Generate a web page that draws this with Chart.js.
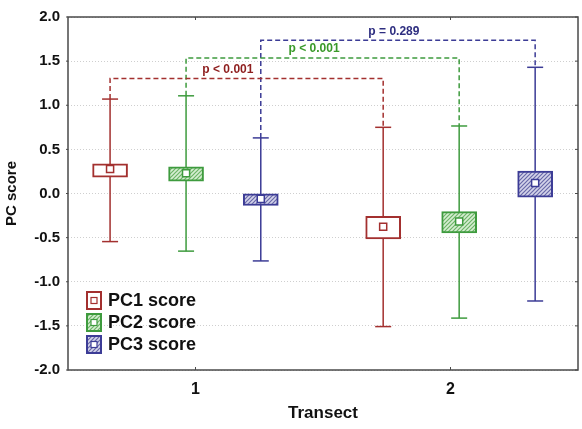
<!DOCTYPE html>
<html>
<head>
<meta charset="utf-8">
<script src="https://cdn.jsdelivr.net/npm/chart.js@4/dist/chart.umd.min.js"></script>
<style>
  body { margin: 0; background: #fff; }
  #wrap { width: 582px; height: 429px; }
</style>
</head>
<body>
<div id="wrap"><canvas id="boxChart"></canvas></div>
<script>
// data
var series = ['PC1 score', 'PC2 score', 'PC3 score'];
var transects = [1, 2];
var xPos = [[0.665, 1.736], [0.963, 2.034], [1.256, 2.332]];   // box centres on the transect axis
var boxLow  = [[0.185, -0.515], [0.140, -0.448], [-0.136, -0.043]];
var boxHigh = [[0.337, -0.258], [0.303, -0.206], [-0.005, 0.255]];
var centre  = [[0.277, -0.377], [0.229, -0.318], [-0.061, 0.118]];
var whiskLow  = [[-0.545, -1.508], [-0.653, -1.412], [-0.764, -1.218]];
var whiskHigh = [[1.070, 0.750], [1.107, 0.765], [0.630, 1.430]];
var bracketLevel = [1.304, 1.535, 1.736];
var pLabels = ['p < 0.001', 'p < 0.001', 'p = 0.289'];
var pLabelX = [1.127, 1.465, 1.778];
var yTicks = [-2, -1.5, -1, -0.5, 0, 0.5, 1, 1.5, 2];

var lineCol = ['#a3302f', '#3e9b3e', '#3c3c96'];
var textCol = ['#8e1e1e', '#3a9a2a', '#2e2e80'];
var FONT = "'Liberation Sans', Arial, sans-serif";

function hatch(bg, fg) {
    var c = document.createElement('canvas');
    c.width = 4; c.height = 4;
    var g = c.getContext('2d');
    g.fillStyle = bg; g.fillRect(0, 0, 4, 4);
    g.strokeStyle = fg; g.lineWidth = 1.2;
    g.beginPath();
    g.moveTo(-1, 5); g.lineTo(5, -1);
    g.moveTo(-1, 1); g.lineTo(1, -1);
    g.moveTo(3, 5); g.lineTo(5, 3);
    g.stroke();
    return g.createPattern(c, 'repeat');
}
var fills = ['#ffffff', hatch('#d6eed2', '#6cb466'), hatch('#d4d4ea', '#6868a8')];

var datasets = [];
series.forEach(function (name, s) {
    // centre markers (top-most)
    datasets.push({
        type: 'line', label: name, order: 0, showLine: false,
        data: transects.map(function (t, i) { return {x: xPos[s][i], y: centre[s][i]}; }),
        pointStyle: 'rect', pointRadius: 5, pointHoverRadius: 5,
        pointBackgroundColor: '#ffffff', pointBorderColor: lineCol[s], pointBorderWidth: 1.5
    });
    // boxes
    datasets.push({
        type: 'bar', label: name + ' box', order: 1, grouped: false,
        data: transects.map(function (t, i) { return {x: xPos[s][i], y: [boxLow[s][i], boxHigh[s][i]]}; }),
        backgroundColor: fills[s], borderColor: lineCol[s], borderWidth: 2,
        borderSkipped: false, barThickness: 35
    });
    // whiskers with caps
    datasets.push({
        type: 'line', label: name + ' range', order: 2,
        data: [
            {x: xPos[s][0], y: whiskLow[s][0]}, {x: xPos[s][0], y: whiskHigh[s][0]},
            {x: (xPos[s][0] + xPos[s][1]) / 2, y: null},
            {x: xPos[s][1], y: whiskLow[s][1]}, {x: xPos[s][1], y: whiskHigh[s][1]}
        ],
        borderColor: lineCol[s], borderWidth: 1.5,
        pointStyle: 'line', pointRadius: 8, pointHoverRadius: 8,
        pointBorderColor: lineCol[s], pointBorderWidth: 1.5
    });
    // significance bracket
    datasets.push({
        type: 'line', label: name + ' test', order: 3,
        data: [
            {x: xPos[s][0], y: whiskHigh[s][0]}, {x: xPos[s][0], y: bracketLevel[s]},
            {x: xPos[s][1], y: bracketLevel[s]}, {x: xPos[s][1], y: whiskHigh[s][1]}
        ],
        borderColor: lineCol[s], borderWidth: 1.5, borderDash: [5, 3], pointRadius: 0
    });
});

var extras = {
    id: 'extras',
    afterDatasetsDraw: function (chart) {
        var ctx = chart.ctx, xs = chart.scales.x, ys = chart.scales.y, a = chart.chartArea;
        ctx.save();
        // p-value labels
        ctx.font = 'bold 12px ' + FONT;
        ctx.textAlign = 'center';
        ctx.textBaseline = 'bottom';
        pLabels.forEach(function (t, s) {
            ctx.fillStyle = textCol[s];
            ctx.fillText(t, xs.getPixelForValue(pLabelX[s]), ys.getPixelForValue(bracketLevel[s]) - 3);
        });
        // frame + small inward ticks
        ctx.strokeStyle = '#4a4a4a';
        ctx.lineWidth = 1.5;
        ctx.strokeRect(a.left, a.top, a.right - a.left, a.bottom - a.top);
        ctx.lineWidth = 1;
        ctx.beginPath();
        transects.forEach(function (t) {
            var px = xs.getPixelForValue(t);
            ctx.moveTo(px, a.top); ctx.lineTo(px, a.top + 3);
            ctx.moveTo(px, a.bottom); ctx.lineTo(px, a.bottom - 3);
        });
        yTicks.forEach(function (v) {
            var py = ys.getPixelForValue(v);
            ctx.moveTo(a.right, py); ctx.lineTo(a.right - 3, py);
            ctx.moveTo(a.left, py); ctx.lineTo(a.left - 2, py);
        });
        ctx.stroke();
        // legend
        var lx = a.left + 19, ly = a.bottom - 78;
        series.forEach(function (name, s) {
            var y = ly + s * 22;
            ctx.fillStyle = fills[s];
            ctx.fillRect(lx, y, 14, 17);
            ctx.strokeStyle = lineCol[s];
            ctx.lineWidth = 2;
            ctx.strokeRect(lx, y, 14, 17);
            ctx.fillStyle = '#fff';
            ctx.fillRect(lx + 4, y + 5.5, 6, 6);
            ctx.lineWidth = 1.2;
            ctx.strokeRect(lx + 4, y + 5.5, 6, 6);
            ctx.fillStyle = '#111';
            ctx.font = 'bold 18px ' + FONT;
            ctx.textAlign = 'left';
            ctx.textBaseline = 'middle';
            ctx.fillText(name, lx + 21, y + 9);
        });
        ctx.restore();
    }
};

new Chart(document.getElementById('boxChart'), {
    data: {datasets: datasets},
    options: {
        responsive: true,
        maintainAspectRatio: false,
        animation: false,
        layout: {autoPadding: false, padding: {top: 12, right: 4, bottom: 0, left: 0}},
        plugins: {
            legend: {display: false},
            tooltip: {enabled: false}
        },
        scales: {
            x: {
                type: 'linear', min: 0.5, max: 2.5, offset: false,
                afterBuildTicks: function (scale) {
                    scale.ticks = transects.map(function (v) { return {value: v}; });
                },
                afterFit: function (scale) {
                    scale.height = 59;
                    scale.paddingLeft = 0;
                    scale.paddingRight = 0;
                },
                grid: {display: false, offset: false},
                border: {display: false},
                ticks: {
                    padding: 2, color: '#111',
                    font: {family: FONT, size: 16, weight: 'bold'}
                },
                title: {
                    display: true, text: 'Transect', color: '#111',
                    font: {family: FONT, size: 17, weight: 'bold'},
                    padding: {top: 0, bottom: 5}
                }
            },
            y: {
                min: -2, max: 2,
                afterBuildTicks: function (scale) {
                    scale.ticks = yTicks.map(function (v) { return {value: v}; });
                },
                afterFit: function (scale) { scale.width = 68; },
                grid: {color: '#cfcfcf', lineWidth: 1, drawTicks: false},
                border: {display: false, dash: [1, 2]},
                ticks: {
                    padding: 8, color: '#111',
                    font: {family: FONT, size: 15, weight: 'bold'},
                    callback: function (v) { return v.toFixed(1); }
                },
                title: {
                    display: true, text: 'PC score', color: '#111',
                    font: {family: FONT, size: 15, weight: 'bold'},
                    padding: {top: 3, bottom: 0}
                }
            }
        }
    },
    plugins: [extras]
});
</script>
</body>
</html>
